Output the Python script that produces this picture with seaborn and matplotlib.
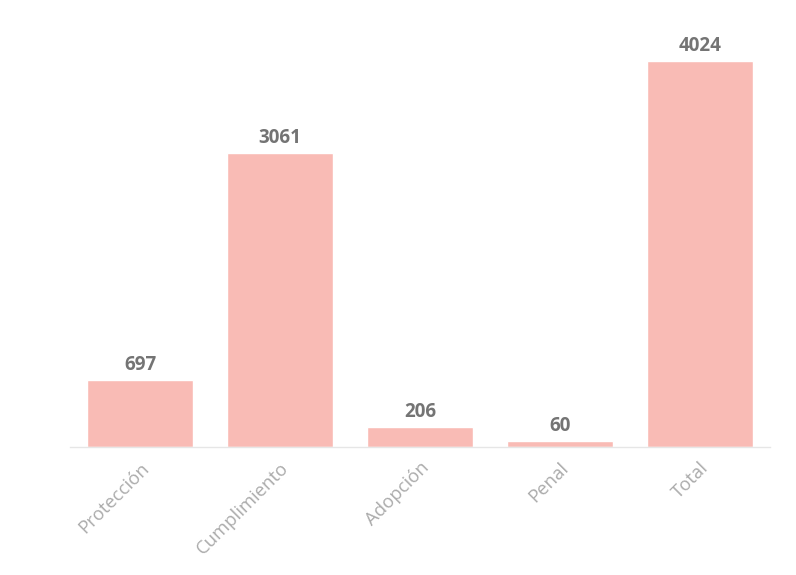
import matplotlib
matplotlib.use("Agg")
import matplotlib.pyplot as plt
import seaborn as sns
import pandas as pd

# Data
categories = ["Protección", "Cumplimiento", "Adopción", "Penal", "Total"]
values = [697, 3061, 206, 60, 4024]

df = pd.DataFrame({"categoria": categories, "valor": values})

sns.set_style("white")
plt.rcParams["font.family"] = ["Open Sans", "DejaVu Sans"]

fig = plt.figure(figsize=(7.96, 5.75), dpi=100)
ax = fig.add_axes([0.088, 0.2226, 0.879, 0.7426])

sns.barplot(data=df, x="categoria", y="valor", color="#f9bbb5",
            saturation=1, width=0.755, ax=ax)

ax.set_xlim(-0.5, 4.5)
ax.set_ylim(0, 4451)

for i, v in enumerate(values):
    ax.annotate(str(v), (i, v), xytext=(0, 3.5), textcoords="offset points",
                ha="center", va="bottom", fontsize=13.5, fontweight="bold",
                color="#747474")

ax.set_xlabel("")
ax.set_ylabel("")
ax.set_yticks([])
for side in ["top", "right", "left"]:
    ax.spines[side].set_visible(False)
ax.spines["bottom"].set_color("#e6e6e6")
ax.spines["bottom"].set_linewidth(1)
ax.tick_params(axis="x", colors="#e6e6e6", length=5, width=1, labelsize=13.3,
               labelcolor="#ababab")
plt.setp(ax.get_xticklabels(), rotation=45, ha="right", rotation_mode="anchor")

fig.savefig("out.png", dpi=100)
